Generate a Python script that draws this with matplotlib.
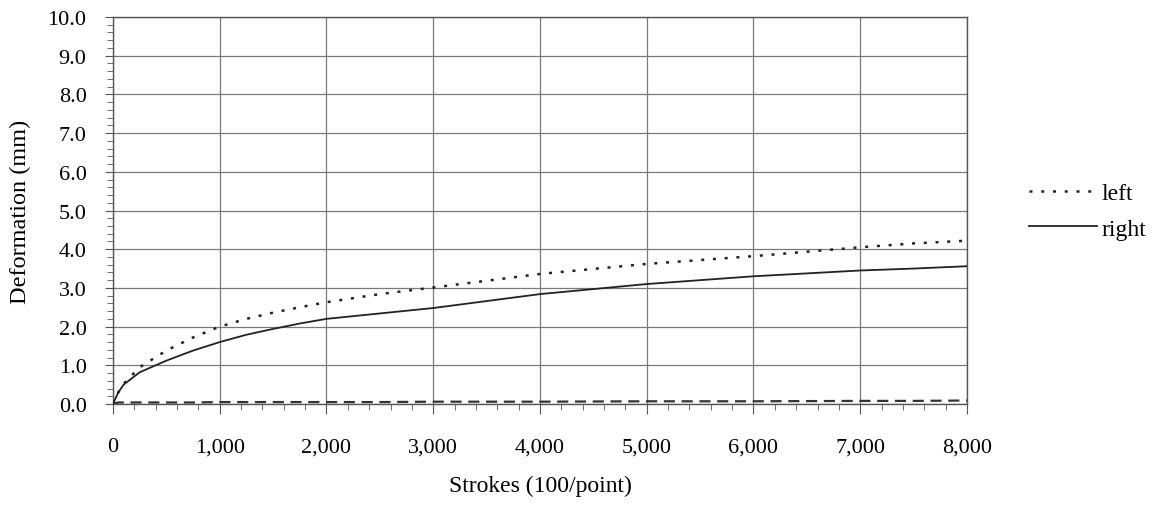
import numpy as np
import matplotlib.pyplot as plt
from matplotlib.ticker import MultipleLocator, FuncFormatter

plt.rcParams['font.family'] = ['Liberation Serif', 'DejaVu Serif']

# strokes (100/point) and deformation readings (mm)
strokes = [0, 50, 100, 250, 500, 750, 1000, 1250, 1500, 1750, 2000, 2500, 3000, 4000, 5000, 6000, 7000, 7500, 8000]
left = [0.0, 0.30, 0.52, 0.95, 1.38, 1.72, 2.00, 2.20, 2.36, 2.50, 2.63, 2.84, 3.01, 3.36, 3.62, 3.82, 4.05, 4.15, 4.22]
right = [0.0, 0.30, 0.50, 0.82, 1.12, 1.38, 1.60, 1.79, 1.94, 2.08, 2.20, 2.34, 2.48, 2.84, 3.10, 3.30, 3.45, 3.50, 3.56]
base = [0.0, 0.04, 0.04, 0.04, 0.04, 0.04, 0.05, 0.05, 0.05, 0.05, 0.05, 0.05, 0.06, 0.06, 0.07, 0.07, 0.08, 0.08, 0.09]

fig = plt.figure(figsize=(11.62, 5.06), dpi=100)
ax = fig.add_axes([0.0972, 0.1996, 0.735, 0.7648])

ax.plot(strokes, base, color='#333333', lw=1.6, ls=(0, (5, 3)), zorder=3)
ax.plot(strokes, left, color='#222222', lw=1.8, ls=(0, (1.2, 3.5)), label='left', zorder=4)
ax.plot(strokes, right, color='#222222', lw=1.3, label='right', zorder=4)

ax.set_xlim(0, 8000)
ax.set_ylim(0, 10)
ax.xaxis.set_major_locator(MultipleLocator(1000))
ax.xaxis.set_minor_locator(MultipleLocator(200))
ax.yaxis.set_major_locator(MultipleLocator(1))
ax.yaxis.set_minor_locator(MultipleLocator(0.2))
ax.xaxis.set_major_formatter(FuncFormatter(lambda v, p: f'{int(v):,}'))
ax.yaxis.set_major_formatter(FuncFormatter(lambda v, p: f'{v:.1f}'))

ax.grid(True, which='major', color='#7a7a7a', lw=0.9)
ax.tick_params(which='both', direction='out', color='#555555', labelsize=16)
ax.tick_params(axis='x', which='major', length=7, pad=17)
ax.tick_params(axis='y', which='major', length=6, pad=13)
ax.tick_params(which='minor', length=4)
for s in ax.spines.values():
    s.set_color('#555555')
    s.set_linewidth(1.0)

ax.set_xlabel('Strokes (100/point)', fontsize=17, labelpad=13)
ax.set_ylabel('Deformation (mm)', fontsize=17.5, labelpad=12)

fig.legend(loc='center left', bbox_to_anchor=(0.867, 0.581), frameon=False,
           fontsize=17, handlelength=2.9, handletextpad=0.2, labelspacing=0.6)

fig.savefig('out.png', dpi=100)
